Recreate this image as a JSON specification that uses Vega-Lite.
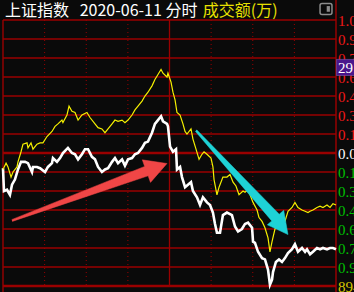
{
  "$schema": "https://vega.github.io/schema/vega-lite/v6.json",
  "width": 333,
  "height": 266,
  "autosize": {"type": "none"},
  "padding": {"left": 3, "top": 20, "right": 18, "bottom": 6},
  "background": "#0a0a0a",
  "config": {"view": {"stroke": null}},
  "datasets": {
    "white": [
      {"m":0,"p":-0.12},{"m":0.7,"p":-0.30},{"m":2.9,"p":-0.29},{"m":5.0,"p":-0.33},{"m":6.5,"p":-0.25},{"m":8.6,"p":-0.21},{"m":10.8,"p":-0.13},{"m":13.0,"p":-0.07},{"m":15.9,"p":-0.07},{"m":18.0,"p":-0.08},{"m":20.9,"p":-0.15},{"m":21.6,"p":-0.11},{"m":24.5,"p":-0.11},{"m":26.7,"p":-0.12},{"m":30.3,"p":-0.15},{"m":32.4,"p":-0.11},{"m":35.3,"p":-0.08},{"m":36.0,"p":-0.04},{"m":38.9,"p":-0.07},{"m":41.1,"p":-0.04},{"m":43.2,"p":0.00},{"m":46.8,"p":0.04},{"m":49.7,"p":0.00},{"m":51.9,"p":-0.01},{"m":54.1,"p":-0.05},{"m":56.9,"p":-0.01},{"m":59.1,"p":0.03},{"m":61.3,"p":0.03},{"m":64.1,"p":-0.03},{"m":66.3,"p":-0.05},{"m":68.5,"p":-0.11},{"m":71.3,"p":-0.15},{"m":73.5,"p":-0.13},{"m":75.7,"p":-0.12},{"m":78.6,"p":-0.07},{"m":80.7,"p":-0.04},{"m":82.9,"p":-0.08},{"m":85.8,"p":-0.05},{"m":87.9,"p":-0.10},{"m":90.1,"p":-0.05},{"m":93.0,"p":-0.04},{"m":95.1,"p":-0.01},{"m":97.3,"p":0.00},{"m":100.2,"p":0.04},{"m":102.3,"p":0.08},{"m":104.5,"p":0.09},{"m":107.4,"p":0.16},{"m":109.5,"p":0.23},{"m":111.7,"p":0.26},{"m":113.9,"p":0.29},{"m":115.3,"p":0.25},{"m":118.2,"p":0.23},{"m":118.9,"p":0.21},{"m":120.4,"p":0.05},{"m":122.5,"p":0.01},{"m":124.7,"p":0.03},{"m":125.4,"p":-0.13},{"m":127.6,"p":-0.11},{"m":129.0,"p":-0.19},{"m":131.2,"p":-0.27},{"m":133.3,"p":-0.25},{"m":135.5,"p":-0.23},{"m":136.9,"p":-0.30},{"m":139.8,"p":-0.35},{"m":142.0,"p":-0.41},{"m":144.1,"p":-0.35},{"m":147.0,"p":-0.39},{"m":149.2,"p":-0.41},{"m":151.3,"p":-0.47},{"m":152.8,"p":-0.56},{"m":154.2,"p":-0.63},{"m":156.4,"p":-0.63},{"m":158.5,"p":-0.49},{"m":161.4,"p":-0.47},{"m":165.0,"p":-0.49},{"m":167.2,"p":-0.58},{"m":169.4,"p":-0.62},{"m":172.2,"p":-0.60},{"m":174.4,"p":-0.56},{"m":176.6,"p":-0.55},{"m":179.5,"p":-0.59},{"m":180.2,"p":-0.70},{"m":181.6,"p":-0.71},{"m":183.8,"p":-0.78},{"m":186.7,"p":-0.83},{"m":188.8,"p":-0.84},{"m":191.0,"p":-0.92},{"m":192.4,"p":-1.04},{"m":193.9,"p":-1.00},{"m":194.6,"p":-0.94},{"m":196.7,"p":-0.86},{"m":198.9,"p":-0.84},{"m":201.1,"p":-0.86},{"m":203.2,"p":-0.83},{"m":205.4,"p":-0.79},{"m":208.3,"p":-0.76},{"m":210.4,"p":-0.72},{"m":212.6,"p":-0.78},{"m":215.5,"p":-0.75},{"m":217.7,"p":-0.78},{"m":219.1,"p":-0.76},{"m":221.3,"p":-0.80},{"m":223.4,"p":-0.78},{"m":226.3,"p":-0.75},{"m":228.5,"p":-0.76},{"m":230.6,"p":-0.75},{"m":233.5,"p":-0.76},{"m":235.7,"p":-0.75},{"m":237.8,"p":-0.75},{"m":240,"p":-0.76}
    ],
    "yellow": [
      {"m":0,"p":-0.13},{"m":2.2,"p":-0.08},{"m":3.6,"p":-0.11},{"m":5.8,"p":-0.19},{"m":7.2,"p":-0.15},{"m":10.1,"p":-0.11},{"m":10.8,"p":-0.07},{"m":13.0,"p":0.01},{"m":14.4,"p":0.07},{"m":17.3,"p":0.08},{"m":18.0,"p":0.04},{"m":20.2,"p":0.08},{"m":21.6,"p":0.03},{"m":24.5,"p":0.07},{"m":26.7,"p":0.08},{"m":28.8,"p":0.08},{"m":31.7,"p":0.13},{"m":35.3,"p":0.17},{"m":37.5,"p":0.21},{"m":39.6,"p":0.23},{"m":42.5,"p":0.26},{"m":43.2,"p":0.24},{"m":46.1,"p":0.30},{"m":47.6,"p":0.37},{"m":49.7,"p":0.33},{"m":51.9,"p":0.32},{"m":54.1,"p":0.26},{"m":56.9,"p":0.30},{"m":60.5,"p":0.32},{"m":62.7,"p":0.28},{"m":66.3,"p":0.23},{"m":68.5,"p":0.20},{"m":71.3,"p":0.19},{"m":73.5,"p":0.16},{"m":75.7,"p":0.19},{"m":78.6,"p":0.23},{"m":80.7,"p":0.26},{"m":82.9,"p":0.25},{"m":85.8,"p":0.26},{"m":87.9,"p":0.24},{"m":90.1,"p":0.26},{"m":93.0,"p":0.30},{"m":95.1,"p":0.34},{"m":97.3,"p":0.37},{"m":100.2,"p":0.41},{"m":102.3,"p":0.45},{"m":104.5,"p":0.48},{"m":107.4,"p":0.53},{"m":109.5,"p":0.58},{"m":111.7,"p":0.62},{"m":113.9,"p":0.66},{"m":115.3,"p":0.63},{"m":118.2,"p":0.60},{"m":118.9,"p":0.63},{"m":121.1,"p":0.56},{"m":122.5,"p":0.48},{"m":124.0,"p":0.42},{"m":125.4,"p":0.32},{"m":127.6,"p":0.30},{"m":129.7,"p":0.23},{"m":131.2,"p":0.17},{"m":132.6,"p":0.15},{"m":135.5,"p":0.19},{"m":136.9,"p":0.11},{"m":139.1,"p":0.03},{"m":141.3,"p":-0.05},{"m":143.4,"p":-0.01},{"m":144.9,"p":0.01},{"m":147.0,"p":-0.01},{"m":149.9,"p":-0.04},{"m":151.3,"p":-0.11},{"m":152.1,"p":-0.21},{"m":154.2,"p":-0.33},{"m":155.7,"p":-0.27},{"m":158.5,"p":-0.19},{"m":161.4,"p":-0.19},{"m":163.6,"p":-0.17},{"m":165.8,"p":-0.23},{"m":167.9,"p":-0.26},{"m":170.1,"p":-0.33},{"m":173.0,"p":-0.30},{"m":174.4,"p":-0.31},{"m":176.6,"p":-0.29},{"m":180.2,"p":-0.39},{"m":183.1,"p":-0.45},{"m":184.5,"p":-0.51},{"m":186.7,"p":-0.54},{"m":188.8,"p":-0.59},{"m":191.0,"p":-0.67},{"m":192.4,"p":-0.78},{"m":193.9,"p":-0.70},{"m":196.0,"p":-0.60},{"m":198.2,"p":-0.57},{"m":201.1,"p":-0.56},{"m":203.2,"p":-0.54},{"m":205.4,"p":-0.46},{"m":208.3,"p":-0.43},{"m":210.4,"p":-0.39},{"m":212.6,"p":-0.43},{"m":215.5,"p":-0.45},{"m":217.7,"p":-0.46},{"m":219.8,"p":-0.47},{"m":221.3,"p":-0.46},{"m":223.4,"p":-0.45},{"m":226.3,"p":-0.43},{"m":228.5,"p":-0.42},{"m":230.6,"p":-0.43},{"m":233.5,"p":-0.41},{"m":235.7,"p":-0.43},{"m":237.8,"p":-0.40},{"m":240,"p":-0.41}
    ],
    "levels": [
      {"v":1.05,"lab":"1.05%","k":"up"},{"v":0.9,"lab":"0.90%","k":"up"},{"v":0.75,"lab":"0.75%","k":"up"},{"v":0.6,"lab":"0.60%","k":"up"},{"v":0.45,"lab":"0.45%","k":"up"},{"v":0.3,"lab":"0.30%","k":"up"},{"v":0.15,"lab":"0.15%","k":"up"},{"v":0,"lab":"0.00%","k":"flat"},{"v":-0.15,"lab":"0.15%","k":"down"},{"v":-0.3,"lab":"0.30%","k":"down"},{"v":-0.45,"lab":"0.45%","k":"down"},{"v":-0.6,"lab":"0.60%","k":"down"},{"v":-0.75,"lab":"0.75%","k":"down"},{"v":-0.9,"lab":"0.90%","k":"down"},{"v":-1.05,"lab":"8945","k":"vol"}
    ],
    "times": [{"t":30},{"t":60},{"t":90},{"t":150},{"t":180},{"t":210}],
    "arrows": [
      {"g":"red","i":0,"m":6.27,"p":-0.526},{"g":"red","i":1,"m":102.1,"p":-0.106},{"g":"red","i":2,"m":100.4,"p":-0.054},{"g":"red","i":3,"m":118.2,"p":-0.083},{"g":"red","i":4,"m":106.3,"p":-0.232},{"g":"red","i":5,"m":104.6,"p":-0.180},{"g":"red","i":6,"m":6.70,"p":-0.540},
      {"g":"cyan","i":0,"m":139.6,"p":0.183},{"g":"cyan","i":1,"m":199.1,"p":-0.483},{"g":"cyan","i":2,"m":202.3,"p":-0.452},{"g":"cyan","i":3,"m":205.4,"p":-0.644},{"g":"cyan","i":4,"m":190.5,"p":-0.567},{"g":"cyan","i":5,"m":193.7,"p":-0.536},{"g":"cyan","i":6,"m":138.6,"p":0.172}
    ]
  },
  "layer": [
    {
      "data": {"name": "times"},
      "mark": {"type": "rule", "color": "#9a0000", "strokeWidth": 1, "strokeDash": [1, 3]},
      "encoding": {
        "x": {"field": "t", "type": "quantitative", "scale": {"domain": [0, 240], "nice": false}, "axis": null}
      }
    },
    {
      "data": {"name": "levels"},
      "mark": {"type": "rule", "color": "#9a0000", "strokeWidth": 1.3},
      "encoding": {
        "y": {"field": "v", "type": "quantitative", "scale": {"domain": [-1.05, 1.05], "nice": false, "zero": false}, "axis": null}
      }
    },
    {
      "data": {"values": [{}]},
      "mark": {"type": "rule", "color": "#9a0000", "strokeWidth": 2.6},
      "encoding": {"y": {"datum": 0}}
    },
    {
      "data": {"values": [{}]},
      "mark": {"type": "rule", "color": "#9a0000", "strokeWidth": 2.6},
      "encoding": {"y": {"datum": -1.05}}
    },
    {
      "data": {"values": [{}]},
      "mark": {"type": "rule", "color": "#9a0000", "strokeWidth": 1.4, "clip": false},
      "encoding": {"x": {"datum": 0}, "y": {"datum": 1.05}, "y2": {"datum": -1.1}}
    },
    {
      "data": {"values": [{}]},
      "mark": {"type": "rule", "color": "#9a0000", "strokeWidth": 1.3},
      "encoding": {"x": {"datum": 120}, "y": {"datum": 1.05}, "y2": {"datum": -1.05}}
    },
    {
      "data": {"values": [{}]},
      "mark": {"type": "rule", "color": "#a00000", "strokeWidth": 1.4, "clip": false},
      "encoding": {"x": {"datum": 240}, "y": {"datum": 1.22}, "y2": {"datum": -1.1}}
    },
    {
      "data": {"name": "white"},
      "mark": {"type": "line", "color": "#ffffff", "strokeWidth": 2.6, "strokeJoin": "miter"},
      "encoding": {
        "x": {"field": "m", "type": "quantitative"},
        "y": {"field": "p", "type": "quantitative"}
      }
    },
    {
      "data": {"name": "yellow"},
      "mark": {"type": "line", "color": "#f5f000", "strokeWidth": 1.2},
      "encoding": {
        "x": {"field": "m", "type": "quantitative"},
        "y": {"field": "p", "type": "quantitative"}
      }
    },
    {
      "data": {"name": "arrows"},
      "transform": [{"filter": "datum.g == 'red'"}],
      "mark": {"type": "line", "fill": "#f04646", "stroke": "#f04646", "strokeWidth": 0.5},
      "encoding": {
        "x": {"field": "m", "type": "quantitative"},
        "y": {"field": "p", "type": "quantitative"},
        "order": {"field": "i"}
      }
    },
    {
      "data": {"name": "arrows"},
      "transform": [{"filter": "datum.g == 'cyan'"}],
      "mark": {"type": "line", "fill": "#1ed2d6", "stroke": "#1ed2d6", "strokeWidth": 0.5},
      "encoding": {
        "x": {"field": "m", "type": "quantitative"},
        "y": {"field": "p", "type": "quantitative"},
        "order": {"field": "i"}
      }
    },
    {
      "data": {"name": "levels"},
      "mark": {"type": "text", "font": "Liberation Sans Narrow", "fontSize": 15, "align": "left", "baseline": "middle", "dx": 2, "dy": 1, "clip": false},
      "encoding": {
        "x": {"datum": 240},
        "y": {"field": "v", "type": "quantitative"},
        "text": {"field": "lab"},
        "color": {"field": "k", "type": "nominal", "legend": null,
          "scale": {"domain": ["up", "flat", "down", "vol"], "range": ["#f01818", "#ffffff", "#00c000", "#d8c800"]}}
      }
    },
    {
      "data": {"values": [{}]},
      "mark": {"type": "rect", "fill": "#4a168c", "stroke": "#7a5ab0", "strokeWidth": 0.6, "clip": false},
      "encoding": {"x": {"datum": 240.3}, "x2": {"datum": 256}, "y": {"datum": 0.739}, "y2": {"datum": 0.612}}
    },
    {
      "data": {"values": [{}]},
      "mark": {"type": "text", "text": "2915", "color": "#ffffff", "font": "Liberation Sans Narrow", "fontSize": 15, "align": "left", "baseline": "middle", "dx": 2, "clip": false},
      "encoding": {"x": {"datum": 240}, "y": {"datum": 0.672}}
    },
    {
      "data": {"values": [{}]},
      "mark": {"type": "rect", "fill": null, "stroke": "#8c8c8c", "strokeWidth": 1.5, "cornerRadius": 2, "clip": false},
      "encoding": {"x": {"datum": 228.5}, "x2": {"datum": 237.1}, "y": {"datum": 1.181}, "y2": {"datum": 1.094}}
    },
    {
      "data": {"values": [{}]},
      "mark": {"type": "rect", "fill": "#8c8c8c", "clip": false},
      "encoding": {"x": {"datum": 233.3}, "x2": {"datum": 235.6}, "y": {"datum": 1.16}, "y2": {"datum": 1.115}}
    },
    {
      "data": {"values": [{}]},
      "mark": {"type": "text", "text": "上证指数\u00a0\u00a0\u00a02020-06-11 分时", "color": "#ffffff", "font": "Noto Sans CJK SC", "fontSize": 16, "align": "left", "baseline": "middle", "clip": false},
      "encoding": {"x": {"datum": 1.4}, "y": {"datum": 1.12}}
    },
    {
      "data": {"values": [{}]},
      "mark": {"type": "text", "text": "成交额(万)", "color": "#e8e000", "font": "Noto Sans CJK SC", "fontSize": 16, "align": "left", "baseline": "middle", "clip": false},
      "encoding": {"x": {"datum": 144}, "y": {"datum": 1.12}}
    }
  ]
}
